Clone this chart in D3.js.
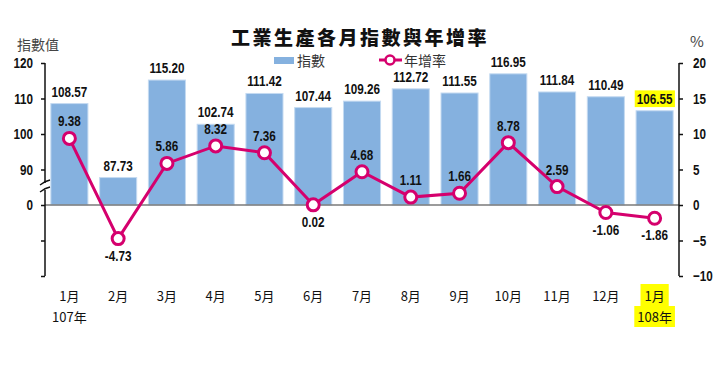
<!DOCTYPE html>
<html>
<head>
<meta charset="utf-8">
<script src="https://cdn.jsdelivr.net/npm/d3@7"></script>
<style>
    body { margin: 0; background: #ffffff; }
    .num { font-family: "Liberation Sans", Arial, sans-serif; font-weight: bold; font-size: 15px; fill: #111; }
    .cjk { font-family: "Noto Sans CJK TC", "Noto Sans", sans-serif; }
</style>
</head>
<body>
<div id="chart"></div>
<script>
// data
const months = ["1月", "2月", "3月", "4月", "5月", "6月", "7月", "8月", "9月", "10月", "11月", "12月", "1月"];
const indexValues = [108.57, 87.73, 115.20, 102.74, 111.42, 107.44, 109.26, 112.72, 111.55, 116.95, 111.84, 110.49, 106.55];
const growthRates = [9.38, -4.73, 5.86, 8.32, 7.36, 0.02, 4.68, 1.11, 1.66, 8.78, 2.59, -1.06, -1.86];
const leftTicks = [120, 110, 100, 90, 0, -10, -20];
const rightTicks = [20, 15, 10, 5, 0, -5, -10];
const yearLabels = [{ at: 0, text: "107年" }, { at: 12, text: "108年" }];

const WIDTH = 728, HEIGHT = 388;
const NARROW = 0.78; // the original uses a condensed bold face
let margin = {left: 45, right: 679, top: 63, bottom: 276};

let svg = d3.select("#chart").append("svg")
    .attr("width", WIDTH)
    .attr("height", HEIGHT);

svg.append("rect").attr("width", WIDTH).attr("height", HEIGHT).attr("fill", "#ffffff");

let x = d3.scaleBand().domain(d3.range(months.length))
    .range([margin.left, margin.right]).paddingInner(0.24).paddingOuter(0.12);

// broken axis: 0..80 collapsed onto the baseline
let yL = d3.scaleLinear().domain([-20, 0, 80, 120])
    .range([margin.bottom, 205, 205, margin.top]);
let yR = d3.scaleLinear().domain([-10, 20]).range([margin.bottom, margin.top]);

let cx = (d, i) => x(i) + x.bandwidth() / 2;

// condensed text placed at (px, py)
function narrowText(sel, px, py) {
    sel.attr("transform", (d, i) => "translate(" + px(d, i) + "," + py(d, i) + ") scale(" + NARROW + ",1)");
}

// bars
svg.selectAll(".bar")
    .data(indexValues)
    .enter().append("rect")
    .attr("class", "bar")
    .attr("x", (d, i) => x(i))
    .attr("y", d => yL(d))
    .attr("width", x.bandwidth())
    .attr("height", d => yL(0) - yL(d))
    .attr("fill", "#85b1df")
    .attr("stroke", "#c4daf1")
    .attr("stroke-width", 1);

// baseline
svg.append("line")
    .attr("x1", margin.left).attr("x2", margin.right)
    .attr("y1", yL(0)).attr("y2", yL(0))
    .attr("stroke", "#7a7a7a").attr("stroke-width", 1.5);

// axes
let leftAxis = d3.axisLeft(yL).tickValues(leftTicks).tickSize(4).tickPadding(8)
    .tickFormat(d => d >= 0 ? d : "");
let gL = svg.append("g").attr("transform", "translate(" + margin.left + ",0)").call(leftAxis);
let rightAxis = d3.axisRight(yR).tickValues(rightTicks).tickSize(4).tickPadding(10);
let gR = svg.append("g").attr("transform", "translate(" + margin.right + ",0)").call(rightAxis);

[gL, gR].forEach(g => {
    g.select(".domain").attr("stroke", "#111").attr("stroke-width", 1.5)
        .attr("d", "M0," + margin.top + "V" + margin.bottom);
    g.selectAll(".tick line").attr("stroke", "#111").attr("stroke-width", 1.5);
    g.selectAll(".tick text").attr("class", "num")
        .attr("transform", function() {
            return "translate(" + d3.select(this).attr("x") + ",0) scale(" + NARROW + ",1)";
        })
        .attr("x", 0);
});

// axis break marks
svg.append("rect").attr("x", margin.left - 3).attr("y", 183).attr("width", 6).attr("height", 7).attr("fill", "#fff");
[183, 190].forEach(yy => {
    svg.append("path")
        .attr("d", "M" + (margin.left - 5) + "," + (yy + 2) + " Q" + margin.left + "," + (yy - 2) + " " + (margin.left + 5) + "," + (yy - 3))
        .attr("fill", "none").attr("stroke", "#111").attr("stroke-width", 1.3);
});

// yellow highlight behind a text element
function highlight(textSel, padX, padY) {
    let node = textSel.node();
    let b = node.getBBox();
    let m = node.getCTM();
    let w = b.width * m.a, h = b.height * m.d;
    svg.insert("rect", () => node)
        .attr("x", m.e + b.x * m.a - padX).attr("y", m.f + b.y * m.d - padY)
        .attr("width", w + 2 * padX).attr("height", h + 2 * padY)
        .attr("fill", "#ffff00");
}

// bar value labels
let barLabels = svg.selectAll(".barLabel")
    .data(indexValues)
    .enter().append("text")
    .attr("class", "num")
    .attr("text-anchor", "middle")
    .text(d => d.toFixed(2));
narrowText(barLabels, cx, d => yL(d) - 7);

// growth line
let line = d3.line().x((d, i) => cx(d, i)).y(d => yR(d));
svg.append("path")
    .datum(growthRates)
    .attr("d", line)
    .attr("fill", "none")
    .attr("stroke", "#d5006d")
    .attr("stroke-width", 3);

svg.selectAll(".dot")
    .data(growthRates)
    .enter().append("circle")
    .attr("cx", cx)
    .attr("cy", d => yR(d))
    .attr("r", 6)
    .attr("fill", "#fff")
    .attr("stroke", "#d5006d")
    .attr("stroke-width", 3);

let rateLabels = svg.selectAll(".rateLabel")
    .data(growthRates)
    .enter().append("text")
    .attr("class", "num")
    .attr("text-anchor", "middle")
    .text(d => d.toFixed(2));
narrowText(rateLabels, cx, d => d > 0.5 ? yR(d) - 12 : yR(d) + 22);

// x labels
let xLabels = svg.selectAll(".xLabel")
    .data(months)
    .enter().append("text")
    .attr("class", "cjk")
    .attr("x", cx)
    .attr("y", 301)
    .attr("text-anchor", "middle")
    .style("font-size", "13px")
    .attr("fill", "#111")
    .text(d => d);

let years = svg.selectAll(".yearLabel")
    .data(yearLabels)
    .enter().append("text")
    .attr("class", "cjk")
    .attr("x", d => cx(d, d.at))
    .attr("y", 322)
    .attr("text-anchor", "middle")
    .style("font-size", "13px")
    .attr("fill", "#111")
    .text(d => d.text);

highlight(barLabels.filter((d, i) => i === indexValues.length - 1), 2, 0);
highlight(xLabels.filter((d, i) => i === months.length - 1), 4, 2);
highlight(years.filter((d, i) => i === 1), 3, 1);

// title
svg.append("text")
    .attr("class", "cjk")
    .attr("x", 360).attr("y", 45)
    .attr("text-anchor", "middle")
    .style("font-size", "19px")
    .style("font-weight", "900")
    .style("letter-spacing", "2.5px")
    .attr("fill", "#111")
    .text("工業生產各月指數與年增率");

// legend
svg.append("rect").attr("x", 274).attr("y", 57).attr("width", 20).attr("height", 7).attr("fill", "#85b1df");
svg.append("text").attr("class", "cjk").attr("x", 297).attr("y", 66)
    .style("font-size", "14px").attr("fill", "#333").text("指數");
svg.append("line").attr("x1", 379).attr("x2", 402).attr("y1", 60).attr("y2", 60)
    .attr("stroke", "#d5006d").attr("stroke-width", 3);
svg.append("circle").attr("cx", 390).attr("cy", 60).attr("r", 4.5)
    .attr("fill", "#fff").attr("stroke", "#d5006d").attr("stroke-width", 2.5);
svg.append("text").attr("class", "cjk").attr("x", 404).attr("y", 66)
    .style("font-size", "14px").attr("fill", "#333").text("年增率");

// axis titles
svg.append("text").attr("class", "cjk").attr("x", 17).attr("y", 50)
    .style("font-size", "14px").attr("fill", "#444").text("指數值");
svg.append("text").attr("class", "cjk").attr("x", 690).attr("y", 47)
    .style("font-size", "15px").attr("fill", "#444").text("%");
</script>
</body>
</html>
